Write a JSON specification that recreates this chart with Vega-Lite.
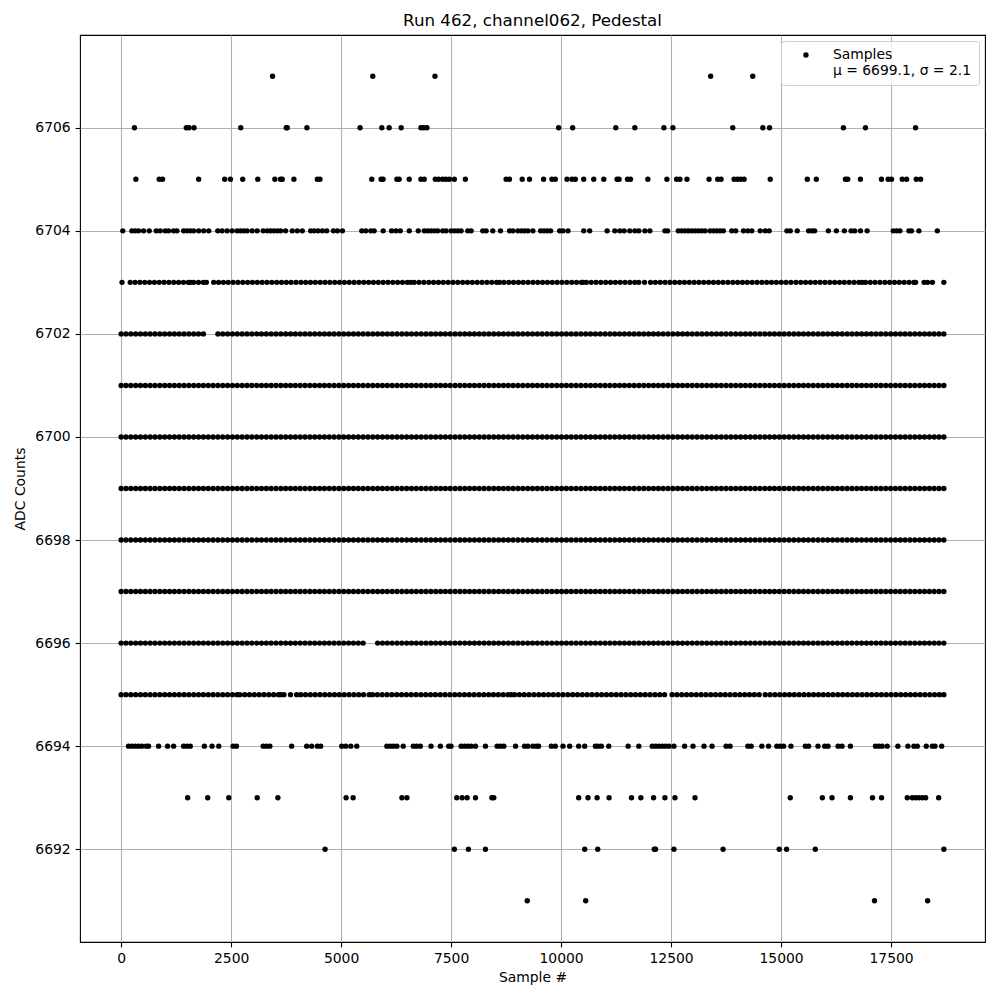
{
"$schema":"https://vega.github.io/schema/vega-lite/v6.json",
"autosize":{"type":"none"},
"padding":{"left":80,"top":35,"right":15,"bottom":58},
"width":905,
"height":907,
"background":"#ffffff",
"title":{"text":"Run 462, channel062, Pedestal","fontSize":16.7,"fontWeight":"normal","font":"DejaVu Sans","offset":5,"color":"#000000"},
"data":{"values":[
{"s":3441,"v":6707},{"s":5720,"v":6707},{"s":7133,"v":6707},{"s":13400,"v":6707},{"s":14357,"v":6707},
{"s":303,"v":6706},{"s":1481,"v":6706},{"s":1543,"v":6706},{"s":1657,"v":6706},{"s":2719,"v":6706},{"s":3753,"v":6706},{"s":3776,"v":6706},{"s":4223,"v":6706},{"s":5431,"v":6706},{"s":5925,"v":6706},{"s":6092,"v":6706},{"s":6365,"v":6706},{"s":6814,"v":6706},{"s":6876,"v":6706},{"s":6951,"v":6706},{"s":9944,"v":6706},{"s":10263,"v":6706},{"s":11243,"v":6706},{"s":11676,"v":6706},{"s":12337,"v":6706},{"s":12542,"v":6706},{"s":13902,"v":6706},{"s":14586,"v":6706},{"s":14738,"v":6706},{"s":16417,"v":6706},{"s":16918,"v":6706},{"s":18057,"v":6706},
{"s":335,"v":6705},{"s":866,"v":6705},{"s":941,"v":6705},{"s":1762,"v":6705},{"s":2354,"v":6705},{"s":2484,"v":6705},{"s":2764,"v":6705},{"s":3106,"v":6705},{"s":3494,"v":6705},{"s":3623,"v":6705},{"s":3662,"v":6705},{"s":3927,"v":6705},{"s":4460,"v":6705},{"s":4519,"v":6705},{"s":5697,"v":6705},{"s":5909,"v":6705},{"s":5955,"v":6705},{"s":6267,"v":6705},{"s":6320,"v":6705},{"s":6548,"v":6705},{"s":6814,"v":6705},{"s":6889,"v":6705},{"s":7140,"v":6705},{"s":7218,"v":6705},{"s":7309,"v":6705},{"s":7384,"v":6705},{"s":7459,"v":6705},{"s":7573,"v":6705},{"s":7824,"v":6705},{"s":8751,"v":6705},{"s":8826,"v":6705},{"s":9116,"v":6705},{"s":9282,"v":6705},{"s":9602,"v":6705},{"s":9792,"v":6705},{"s":9868,"v":6705},{"s":10134,"v":6705},{"s":10248,"v":6705},{"s":10324,"v":6705},{"s":10514,"v":6705},{"s":10742,"v":6705},{"s":10970,"v":6705},{"s":11273,"v":6705},{"s":11319,"v":6705},{"s":11509,"v":6705},{"s":11577,"v":6705},{"s":11972,"v":6705},{"s":12405,"v":6705},{"s":12626,"v":6705},{"s":12702,"v":6705},{"s":12861,"v":6705},{"s":13363,"v":6705},{"s":13560,"v":6705},{"s":13636,"v":6705},{"s":13932,"v":6705},{"s":14008,"v":6705},{"s":14084,"v":6705},{"s":14160,"v":6705},{"s":14753,"v":6705},{"s":15596,"v":6705},{"s":15801,"v":6705},{"s":16462,"v":6705},{"s":16515,"v":6705},{"s":16804,"v":6705},{"s":17282,"v":6705},{"s":17434,"v":6705},{"s":17510,"v":6705},{"s":17754,"v":6705},{"s":17853,"v":6705},{"s":18073,"v":6705},{"s":18172,"v":6705},
{"s":38,"v":6704},{"s":244,"v":6704},{"s":320,"v":6704},{"s":395,"v":6704},{"s":509,"v":6704},{"s":639,"v":6704},{"s":798,"v":6704},{"s":889,"v":6704},{"s":1003,"v":6704},{"s":1079,"v":6704},{"s":1193,"v":6704},{"s":1269,"v":6704},{"s":1421,"v":6704},{"s":1497,"v":6704},{"s":1573,"v":6704},{"s":1649,"v":6704},{"s":1763,"v":6704},{"s":1877,"v":6704},{"s":1991,"v":6704},{"s":2196,"v":6704},{"s":2295,"v":6704},{"s":2409,"v":6704},{"s":2523,"v":6704},{"s":2637,"v":6704},{"s":2713,"v":6704},{"s":2789,"v":6704},{"s":2865,"v":6704},{"s":2979,"v":6704},{"s":3092,"v":6704},{"s":3229,"v":6704},{"s":3320,"v":6704},{"s":3396,"v":6704},{"s":3472,"v":6704},{"s":3548,"v":6704},{"s":3624,"v":6704},{"s":3738,"v":6704},{"s":3890,"v":6704},{"s":4004,"v":6704},{"s":4118,"v":6704},{"s":4308,"v":6704},{"s":4384,"v":6704},{"s":4475,"v":6704},{"s":4574,"v":6704},{"s":4673,"v":6704},{"s":4824,"v":6704},{"s":4916,"v":6704},{"s":5030,"v":6704},{"s":5470,"v":6704},{"s":5561,"v":6704},{"s":5675,"v":6704},{"s":5751,"v":6704},{"s":5956,"v":6704},{"s":6146,"v":6704},{"s":6245,"v":6704},{"s":6344,"v":6704},{"s":6549,"v":6704},{"s":6754,"v":6704},{"s":6891,"v":6704},{"s":6967,"v":6704},{"s":7043,"v":6704},{"s":7119,"v":6704},{"s":7195,"v":6704},{"s":7309,"v":6704},{"s":7385,"v":6704},{"s":7499,"v":6704},{"s":7575,"v":6704},{"s":7651,"v":6704},{"s":7727,"v":6704},{"s":7879,"v":6704},{"s":7955,"v":6704},{"s":8220,"v":6704},{"s":8296,"v":6704},{"s":8448,"v":6704},{"s":8623,"v":6704},{"s":8828,"v":6704},{"s":8904,"v":6704},{"s":9018,"v":6704},{"s":9094,"v":6704},{"s":9170,"v":6704},{"s":9246,"v":6704},{"s":9359,"v":6704},{"s":9534,"v":6704},{"s":9610,"v":6704},{"s":9686,"v":6704},{"s":9762,"v":6704},{"s":9967,"v":6704},{"s":10043,"v":6704},{"s":10157,"v":6704},{"s":10514,"v":6704},{"s":10650,"v":6704},{"s":11046,"v":6704},{"s":11220,"v":6704},{"s":11334,"v":6704},{"s":11433,"v":6704},{"s":11562,"v":6704},{"s":11676,"v":6704},{"s":11767,"v":6704},{"s":11904,"v":6704},{"s":12018,"v":6704},{"s":12360,"v":6704},{"s":12421,"v":6704},{"s":12664,"v":6704},{"s":12740,"v":6704},{"s":12816,"v":6704},{"s":12892,"v":6704},{"s":12968,"v":6704},{"s":13044,"v":6704},{"s":13120,"v":6704},{"s":13196,"v":6704},{"s":13271,"v":6704},{"s":13385,"v":6704},{"s":13461,"v":6704},{"s":13537,"v":6704},{"s":13613,"v":6704},{"s":13689,"v":6704},{"s":13879,"v":6704},{"s":13970,"v":6704},{"s":14145,"v":6704},{"s":14244,"v":6704},{"s":14335,"v":6704},{"s":14525,"v":6704},{"s":14639,"v":6704},{"s":14730,"v":6704},{"s":15133,"v":6704},{"s":15209,"v":6704},{"s":15368,"v":6704},{"s":15627,"v":6704},{"s":15703,"v":6704},{"s":15763,"v":6704},{"s":16075,"v":6704},{"s":16257,"v":6704},{"s":16439,"v":6704},{"s":16591,"v":6704},{"s":16675,"v":6704},{"s":16804,"v":6704},{"s":16956,"v":6704},{"s":17549,"v":6704},{"s":17625,"v":6704},{"s":17701,"v":6704},{"s":17906,"v":6704},{"s":17966,"v":6704},{"s":18133,"v":6704},{"s":18551,"v":6704},
{"s":20,"v":6703},{"s":206,"v":6703},{"s":316,"v":6703},{"s":426,"v":6703},{"s":536,"v":6703},{"s":646,"v":6703},{"s":756,"v":6703},{"s":866,"v":6703},{"s":976,"v":6703},{"s":1086,"v":6703},{"s":1196,"v":6703},{"s":1306,"v":6703},{"s":1416,"v":6703},{"s":1526,"v":6703},{"s":1573,"v":6703},{"s":1649,"v":6703},{"s":1759,"v":6703},{"s":1869,"v":6703},{"s":1938,"v":6703},{"s":2105,"v":6703},{"s":2215,"v":6703},{"s":2325,"v":6703},{"s":2435,"v":6703},{"s":2545,"v":6703},{"s":2655,"v":6703},{"s":2765,"v":6703},{"s":2875,"v":6703},{"s":2985,"v":6703},{"s":3095,"v":6703},{"s":3205,"v":6703},{"s":3315,"v":6703},{"s":3425,"v":6703},{"s":3535,"v":6703},{"s":3645,"v":6703},{"s":3755,"v":6703},{"s":3865,"v":6703},{"s":3975,"v":6703},{"s":4085,"v":6703},{"s":4195,"v":6703},{"s":4305,"v":6703},{"s":4415,"v":6703},{"s":4525,"v":6703},{"s":4635,"v":6703},{"s":4745,"v":6703},{"s":4855,"v":6703},{"s":4965,"v":6703},{"s":5075,"v":6703},{"s":5185,"v":6703},{"s":5295,"v":6703},{"s":5405,"v":6703},{"s":5515,"v":6703},{"s":5625,"v":6703},{"s":5735,"v":6703},{"s":5845,"v":6703},{"s":5955,"v":6703},{"s":6065,"v":6703},{"s":6175,"v":6703},{"s":6285,"v":6703},{"s":6395,"v":6703},{"s":6505,"v":6703},{"s":6587,"v":6703},{"s":6663,"v":6703},{"s":6773,"v":6703},{"s":6883,"v":6703},{"s":6993,"v":6703},{"s":7103,"v":6703},{"s":7213,"v":6703},{"s":7323,"v":6703},{"s":7433,"v":6703},{"s":7543,"v":6703},{"s":7653,"v":6703},{"s":7763,"v":6703},{"s":7873,"v":6703},{"s":7983,"v":6703},{"s":8093,"v":6703},{"s":8203,"v":6703},{"s":8313,"v":6703},{"s":8423,"v":6703},{"s":8533,"v":6703},{"s":8600,"v":6703},{"s":8700,"v":6703},{"s":8810,"v":6703},{"s":8920,"v":6703},{"s":9030,"v":6703},{"s":9140,"v":6703},{"s":9250,"v":6703},{"s":9360,"v":6703},{"s":9470,"v":6703},{"s":9580,"v":6703},{"s":9690,"v":6703},{"s":9800,"v":6703},{"s":9910,"v":6703},{"s":10020,"v":6703},{"s":10130,"v":6703},{"s":10240,"v":6703},{"s":10350,"v":6703},{"s":10460,"v":6703},{"s":10499,"v":6703},{"s":10574,"v":6703},{"s":10684,"v":6703},{"s":10794,"v":6703},{"s":10904,"v":6703},{"s":11014,"v":6703},{"s":11124,"v":6703},{"s":11234,"v":6703},{"s":11344,"v":6703},{"s":11454,"v":6703},{"s":11564,"v":6703},{"s":11674,"v":6703},{"s":11767,"v":6703},{"s":11897,"v":6703},{"s":12033,"v":6703},{"s":12143,"v":6703},{"s":12253,"v":6703},{"s":12363,"v":6703},{"s":12473,"v":6703},{"s":12583,"v":6703},{"s":12693,"v":6703},{"s":12803,"v":6703},{"s":12913,"v":6703},{"s":13023,"v":6703},{"s":13133,"v":6703},{"s":13243,"v":6703},{"s":13353,"v":6703},{"s":13463,"v":6703},{"s":13573,"v":6703},{"s":13683,"v":6703},{"s":13793,"v":6703},{"s":13903,"v":6703},{"s":14013,"v":6703},{"s":14123,"v":6703},{"s":14233,"v":6703},{"s":14343,"v":6703},{"s":14453,"v":6703},{"s":14563,"v":6703},{"s":14673,"v":6703},{"s":14783,"v":6703},{"s":14893,"v":6703},{"s":15003,"v":6703},{"s":15113,"v":6703},{"s":15223,"v":6703},{"s":15338,"v":6703},{"s":15448,"v":6703},{"s":15558,"v":6703},{"s":15668,"v":6703},{"s":15778,"v":6703},{"s":15888,"v":6703},{"s":15998,"v":6703},{"s":16108,"v":6703},{"s":16218,"v":6703},{"s":16328,"v":6703},{"s":16438,"v":6703},{"s":16548,"v":6703},{"s":16658,"v":6703},{"s":16768,"v":6703},{"s":16842,"v":6703},{"s":16918,"v":6703},{"s":17028,"v":6703},{"s":17138,"v":6703},{"s":17248,"v":6703},{"s":17358,"v":6703},{"s":17468,"v":6703},{"s":17578,"v":6703},{"s":17688,"v":6703},{"s":17798,"v":6703},{"s":17908,"v":6703},{"s":18018,"v":6703},{"s":18058,"v":6703},{"s":18250,"v":6703},{"s":18330,"v":6703},{"s":18440,"v":6703},{"s":18700,"v":6703},
{"s":0,"v":6702},{"s":110,"v":6702},{"s":220,"v":6702},{"s":330,"v":6702},{"s":440,"v":6702},{"s":550,"v":6702},{"s":660,"v":6702},{"s":770,"v":6702},{"s":880,"v":6702},{"s":990,"v":6702},{"s":1100,"v":6702},{"s":1210,"v":6702},{"s":1320,"v":6702},{"s":1430,"v":6702},{"s":1540,"v":6702},{"s":1650,"v":6702},{"s":1760,"v":6702},{"s":1870,"v":6702},{"s":2200,"v":6702},{"s":2310,"v":6702},{"s":2420,"v":6702},{"s":2530,"v":6702},{"s":2640,"v":6702},{"s":2750,"v":6702},{"s":2860,"v":6702},{"s":2970,"v":6702},{"s":3080,"v":6702},{"s":3190,"v":6702},{"s":3300,"v":6702},{"s":3410,"v":6702},{"s":3520,"v":6702},{"s":3630,"v":6702},{"s":3740,"v":6702},{"s":3850,"v":6702},{"s":3960,"v":6702},{"s":4070,"v":6702},{"s":4180,"v":6702},{"s":4290,"v":6702},{"s":4400,"v":6702},{"s":4510,"v":6702},{"s":4620,"v":6702},{"s":4730,"v":6702},{"s":4840,"v":6702},{"s":4950,"v":6702},{"s":5060,"v":6702},{"s":5170,"v":6702},{"s":5280,"v":6702},{"s":5390,"v":6702},{"s":5500,"v":6702},{"s":5610,"v":6702},{"s":5720,"v":6702},{"s":5830,"v":6702},{"s":5940,"v":6702},{"s":6050,"v":6702},{"s":6160,"v":6702},{"s":6270,"v":6702},{"s":6380,"v":6702},{"s":6490,"v":6702},{"s":6600,"v":6702},{"s":6710,"v":6702},{"s":6820,"v":6702},{"s":6930,"v":6702},{"s":7040,"v":6702},{"s":7150,"v":6702},{"s":7260,"v":6702},{"s":7370,"v":6702},{"s":7480,"v":6702},{"s":7590,"v":6702},{"s":7700,"v":6702},{"s":7810,"v":6702},{"s":7920,"v":6702},{"s":8030,"v":6702},{"s":8140,"v":6702},{"s":8250,"v":6702},{"s":8360,"v":6702},{"s":8470,"v":6702},{"s":8580,"v":6702},{"s":8690,"v":6702},{"s":8800,"v":6702},{"s":8910,"v":6702},{"s":9020,"v":6702},{"s":9130,"v":6702},{"s":9240,"v":6702},{"s":9350,"v":6702},{"s":9460,"v":6702},{"s":9570,"v":6702},{"s":9680,"v":6702},{"s":9790,"v":6702},{"s":9900,"v":6702},{"s":10010,"v":6702},{"s":10120,"v":6702},{"s":10230,"v":6702},{"s":10340,"v":6702},{"s":10450,"v":6702},{"s":10560,"v":6702},{"s":10670,"v":6702},{"s":10780,"v":6702},{"s":10890,"v":6702},{"s":11000,"v":6702},{"s":11110,"v":6702},{"s":11220,"v":6702},{"s":11330,"v":6702},{"s":11440,"v":6702},{"s":11550,"v":6702},{"s":11660,"v":6702},{"s":11770,"v":6702},{"s":11880,"v":6702},{"s":11990,"v":6702},{"s":12100,"v":6702},{"s":12210,"v":6702},{"s":12320,"v":6702},{"s":12430,"v":6702},{"s":12540,"v":6702},{"s":12650,"v":6702},{"s":12760,"v":6702},{"s":12870,"v":6702},{"s":12980,"v":6702},{"s":13090,"v":6702},{"s":13200,"v":6702},{"s":13310,"v":6702},{"s":13420,"v":6702},{"s":13530,"v":6702},{"s":13640,"v":6702},{"s":13750,"v":6702},{"s":13860,"v":6702},{"s":13970,"v":6702},{"s":14080,"v":6702},{"s":14190,"v":6702},{"s":14300,"v":6702},{"s":14410,"v":6702},{"s":14520,"v":6702},{"s":14630,"v":6702},{"s":14740,"v":6702},{"s":14850,"v":6702},{"s":14960,"v":6702},{"s":15070,"v":6702},{"s":15180,"v":6702},{"s":15290,"v":6702},{"s":15400,"v":6702},{"s":15510,"v":6702},{"s":15620,"v":6702},{"s":15730,"v":6702},{"s":15840,"v":6702},{"s":15950,"v":6702},{"s":16060,"v":6702},{"s":16170,"v":6702},{"s":16280,"v":6702},{"s":16390,"v":6702},{"s":16500,"v":6702},{"s":16610,"v":6702},{"s":16720,"v":6702},{"s":16830,"v":6702},{"s":16940,"v":6702},{"s":17050,"v":6702},{"s":17160,"v":6702},{"s":17270,"v":6702},{"s":17380,"v":6702},{"s":17490,"v":6702},{"s":17600,"v":6702},{"s":17710,"v":6702},{"s":17820,"v":6702},{"s":17930,"v":6702},{"s":18040,"v":6702},{"s":18150,"v":6702},{"s":18260,"v":6702},{"s":18370,"v":6702},{"s":18480,"v":6702},{"s":18590,"v":6702},{"s":18700,"v":6702},
{"s":0,"v":6701},{"s":110,"v":6701},{"s":220,"v":6701},{"s":330,"v":6701},{"s":440,"v":6701},{"s":550,"v":6701},{"s":660,"v":6701},{"s":770,"v":6701},{"s":880,"v":6701},{"s":990,"v":6701},{"s":1100,"v":6701},{"s":1210,"v":6701},{"s":1320,"v":6701},{"s":1430,"v":6701},{"s":1540,"v":6701},{"s":1650,"v":6701},{"s":1760,"v":6701},{"s":1870,"v":6701},{"s":1980,"v":6701},{"s":2090,"v":6701},{"s":2200,"v":6701},{"s":2310,"v":6701},{"s":2420,"v":6701},{"s":2530,"v":6701},{"s":2640,"v":6701},{"s":2750,"v":6701},{"s":2860,"v":6701},{"s":2970,"v":6701},{"s":3080,"v":6701},{"s":3190,"v":6701},{"s":3300,"v":6701},{"s":3410,"v":6701},{"s":3520,"v":6701},{"s":3630,"v":6701},{"s":3740,"v":6701},{"s":3850,"v":6701},{"s":3960,"v":6701},{"s":4070,"v":6701},{"s":4180,"v":6701},{"s":4290,"v":6701},{"s":4400,"v":6701},{"s":4510,"v":6701},{"s":4620,"v":6701},{"s":4730,"v":6701},{"s":4840,"v":6701},{"s":4950,"v":6701},{"s":5060,"v":6701},{"s":5170,"v":6701},{"s":5280,"v":6701},{"s":5390,"v":6701},{"s":5500,"v":6701},{"s":5610,"v":6701},{"s":5720,"v":6701},{"s":5830,"v":6701},{"s":5940,"v":6701},{"s":6050,"v":6701},{"s":6160,"v":6701},{"s":6270,"v":6701},{"s":6380,"v":6701},{"s":6490,"v":6701},{"s":6600,"v":6701},{"s":6710,"v":6701},{"s":6820,"v":6701},{"s":6930,"v":6701},{"s":7040,"v":6701},{"s":7150,"v":6701},{"s":7260,"v":6701},{"s":7370,"v":6701},{"s":7480,"v":6701},{"s":7590,"v":6701},{"s":7700,"v":6701},{"s":7810,"v":6701},{"s":7920,"v":6701},{"s":8030,"v":6701},{"s":8140,"v":6701},{"s":8250,"v":6701},{"s":8360,"v":6701},{"s":8470,"v":6701},{"s":8580,"v":6701},{"s":8690,"v":6701},{"s":8800,"v":6701},{"s":8910,"v":6701},{"s":9020,"v":6701},{"s":9130,"v":6701},{"s":9240,"v":6701},{"s":9350,"v":6701},{"s":9460,"v":6701},{"s":9570,"v":6701},{"s":9680,"v":6701},{"s":9790,"v":6701},{"s":9900,"v":6701},{"s":10010,"v":6701},{"s":10120,"v":6701},{"s":10230,"v":6701},{"s":10340,"v":6701},{"s":10450,"v":6701},{"s":10560,"v":6701},{"s":10670,"v":6701},{"s":10780,"v":6701},{"s":10890,"v":6701},{"s":11000,"v":6701},{"s":11110,"v":6701},{"s":11220,"v":6701},{"s":11330,"v":6701},{"s":11440,"v":6701},{"s":11550,"v":6701},{"s":11660,"v":6701},{"s":11770,"v":6701},{"s":11880,"v":6701},{"s":11990,"v":6701},{"s":12100,"v":6701},{"s":12210,"v":6701},{"s":12320,"v":6701},{"s":12430,"v":6701},{"s":12540,"v":6701},{"s":12650,"v":6701},{"s":12760,"v":6701},{"s":12870,"v":6701},{"s":12980,"v":6701},{"s":13090,"v":6701},{"s":13200,"v":6701},{"s":13310,"v":6701},{"s":13420,"v":6701},{"s":13530,"v":6701},{"s":13640,"v":6701},{"s":13750,"v":6701},{"s":13860,"v":6701},{"s":13970,"v":6701},{"s":14080,"v":6701},{"s":14190,"v":6701},{"s":14300,"v":6701},{"s":14410,"v":6701},{"s":14520,"v":6701},{"s":14630,"v":6701},{"s":14740,"v":6701},{"s":14850,"v":6701},{"s":14960,"v":6701},{"s":15070,"v":6701},{"s":15180,"v":6701},{"s":15290,"v":6701},{"s":15400,"v":6701},{"s":15510,"v":6701},{"s":15620,"v":6701},{"s":15730,"v":6701},{"s":15840,"v":6701},{"s":15950,"v":6701},{"s":16060,"v":6701},{"s":16170,"v":6701},{"s":16280,"v":6701},{"s":16390,"v":6701},{"s":16500,"v":6701},{"s":16610,"v":6701},{"s":16720,"v":6701},{"s":16830,"v":6701},{"s":16940,"v":6701},{"s":17050,"v":6701},{"s":17160,"v":6701},{"s":17270,"v":6701},{"s":17380,"v":6701},{"s":17490,"v":6701},{"s":17600,"v":6701},{"s":17710,"v":6701},{"s":17820,"v":6701},{"s":17930,"v":6701},{"s":18040,"v":6701},{"s":18150,"v":6701},{"s":18260,"v":6701},{"s":18370,"v":6701},{"s":18480,"v":6701},{"s":18590,"v":6701},{"s":18700,"v":6701},
{"s":0,"v":6700},{"s":110,"v":6700},{"s":220,"v":6700},{"s":330,"v":6700},{"s":440,"v":6700},{"s":550,"v":6700},{"s":660,"v":6700},{"s":770,"v":6700},{"s":880,"v":6700},{"s":990,"v":6700},{"s":1100,"v":6700},{"s":1210,"v":6700},{"s":1320,"v":6700},{"s":1430,"v":6700},{"s":1540,"v":6700},{"s":1650,"v":6700},{"s":1760,"v":6700},{"s":1870,"v":6700},{"s":1980,"v":6700},{"s":2090,"v":6700},{"s":2200,"v":6700},{"s":2310,"v":6700},{"s":2420,"v":6700},{"s":2530,"v":6700},{"s":2640,"v":6700},{"s":2750,"v":6700},{"s":2860,"v":6700},{"s":2970,"v":6700},{"s":3080,"v":6700},{"s":3190,"v":6700},{"s":3300,"v":6700},{"s":3410,"v":6700},{"s":3520,"v":6700},{"s":3630,"v":6700},{"s":3740,"v":6700},{"s":3850,"v":6700},{"s":3960,"v":6700},{"s":4070,"v":6700},{"s":4180,"v":6700},{"s":4290,"v":6700},{"s":4400,"v":6700},{"s":4510,"v":6700},{"s":4620,"v":6700},{"s":4730,"v":6700},{"s":4840,"v":6700},{"s":4950,"v":6700},{"s":5060,"v":6700},{"s":5170,"v":6700},{"s":5280,"v":6700},{"s":5390,"v":6700},{"s":5500,"v":6700},{"s":5610,"v":6700},{"s":5720,"v":6700},{"s":5830,"v":6700},{"s":5940,"v":6700},{"s":6050,"v":6700},{"s":6160,"v":6700},{"s":6270,"v":6700},{"s":6380,"v":6700},{"s":6490,"v":6700},{"s":6600,"v":6700},{"s":6710,"v":6700},{"s":6820,"v":6700},{"s":6930,"v":6700},{"s":7040,"v":6700},{"s":7150,"v":6700},{"s":7260,"v":6700},{"s":7370,"v":6700},{"s":7480,"v":6700},{"s":7590,"v":6700},{"s":7700,"v":6700},{"s":7810,"v":6700},{"s":7920,"v":6700},{"s":8030,"v":6700},{"s":8140,"v":6700},{"s":8250,"v":6700},{"s":8360,"v":6700},{"s":8470,"v":6700},{"s":8580,"v":6700},{"s":8690,"v":6700},{"s":8800,"v":6700},{"s":8910,"v":6700},{"s":9020,"v":6700},{"s":9130,"v":6700},{"s":9240,"v":6700},{"s":9350,"v":6700},{"s":9460,"v":6700},{"s":9570,"v":6700},{"s":9680,"v":6700},{"s":9790,"v":6700},{"s":9900,"v":6700},{"s":10010,"v":6700},{"s":10120,"v":6700},{"s":10230,"v":6700},{"s":10340,"v":6700},{"s":10450,"v":6700},{"s":10560,"v":6700},{"s":10670,"v":6700},{"s":10780,"v":6700},{"s":10890,"v":6700},{"s":11000,"v":6700},{"s":11110,"v":6700},{"s":11220,"v":6700},{"s":11330,"v":6700},{"s":11440,"v":6700},{"s":11550,"v":6700},{"s":11660,"v":6700},{"s":11770,"v":6700},{"s":11880,"v":6700},{"s":11990,"v":6700},{"s":12100,"v":6700},{"s":12210,"v":6700},{"s":12320,"v":6700},{"s":12430,"v":6700},{"s":12540,"v":6700},{"s":12650,"v":6700},{"s":12760,"v":6700},{"s":12870,"v":6700},{"s":12980,"v":6700},{"s":13090,"v":6700},{"s":13200,"v":6700},{"s":13310,"v":6700},{"s":13420,"v":6700},{"s":13530,"v":6700},{"s":13640,"v":6700},{"s":13750,"v":6700},{"s":13860,"v":6700},{"s":13970,"v":6700},{"s":14080,"v":6700},{"s":14190,"v":6700},{"s":14300,"v":6700},{"s":14410,"v":6700},{"s":14520,"v":6700},{"s":14630,"v":6700},{"s":14740,"v":6700},{"s":14850,"v":6700},{"s":14960,"v":6700},{"s":15070,"v":6700},{"s":15180,"v":6700},{"s":15290,"v":6700},{"s":15400,"v":6700},{"s":15510,"v":6700},{"s":15620,"v":6700},{"s":15730,"v":6700},{"s":15840,"v":6700},{"s":15950,"v":6700},{"s":16060,"v":6700},{"s":16170,"v":6700},{"s":16280,"v":6700},{"s":16390,"v":6700},{"s":16500,"v":6700},{"s":16610,"v":6700},{"s":16720,"v":6700},{"s":16830,"v":6700},{"s":16940,"v":6700},{"s":17050,"v":6700},{"s":17160,"v":6700},{"s":17270,"v":6700},{"s":17380,"v":6700},{"s":17490,"v":6700},{"s":17600,"v":6700},{"s":17710,"v":6700},{"s":17820,"v":6700},{"s":17930,"v":6700},{"s":18040,"v":6700},{"s":18150,"v":6700},{"s":18260,"v":6700},{"s":18370,"v":6700},{"s":18480,"v":6700},{"s":18590,"v":6700},{"s":18700,"v":6700},
{"s":0,"v":6699},{"s":110,"v":6699},{"s":220,"v":6699},{"s":330,"v":6699},{"s":440,"v":6699},{"s":550,"v":6699},{"s":660,"v":6699},{"s":770,"v":6699},{"s":880,"v":6699},{"s":990,"v":6699},{"s":1100,"v":6699},{"s":1210,"v":6699},{"s":1320,"v":6699},{"s":1430,"v":6699},{"s":1540,"v":6699},{"s":1650,"v":6699},{"s":1760,"v":6699},{"s":1870,"v":6699},{"s":1980,"v":6699},{"s":2090,"v":6699},{"s":2200,"v":6699},{"s":2310,"v":6699},{"s":2420,"v":6699},{"s":2530,"v":6699},{"s":2640,"v":6699},{"s":2750,"v":6699},{"s":2860,"v":6699},{"s":2970,"v":6699},{"s":3080,"v":6699},{"s":3190,"v":6699},{"s":3300,"v":6699},{"s":3410,"v":6699},{"s":3520,"v":6699},{"s":3630,"v":6699},{"s":3740,"v":6699},{"s":3850,"v":6699},{"s":3960,"v":6699},{"s":4070,"v":6699},{"s":4180,"v":6699},{"s":4290,"v":6699},{"s":4400,"v":6699},{"s":4510,"v":6699},{"s":4620,"v":6699},{"s":4730,"v":6699},{"s":4840,"v":6699},{"s":4950,"v":6699},{"s":5060,"v":6699},{"s":5170,"v":6699},{"s":5280,"v":6699},{"s":5390,"v":6699},{"s":5500,"v":6699},{"s":5610,"v":6699},{"s":5720,"v":6699},{"s":5830,"v":6699},{"s":5940,"v":6699},{"s":6050,"v":6699},{"s":6160,"v":6699},{"s":6270,"v":6699},{"s":6380,"v":6699},{"s":6490,"v":6699},{"s":6600,"v":6699},{"s":6710,"v":6699},{"s":6820,"v":6699},{"s":6930,"v":6699},{"s":7040,"v":6699},{"s":7150,"v":6699},{"s":7260,"v":6699},{"s":7370,"v":6699},{"s":7480,"v":6699},{"s":7590,"v":6699},{"s":7700,"v":6699},{"s":7810,"v":6699},{"s":7920,"v":6699},{"s":8030,"v":6699},{"s":8140,"v":6699},{"s":8250,"v":6699},{"s":8360,"v":6699},{"s":8470,"v":6699},{"s":8580,"v":6699},{"s":8690,"v":6699},{"s":8800,"v":6699},{"s":8910,"v":6699},{"s":9020,"v":6699},{"s":9130,"v":6699},{"s":9240,"v":6699},{"s":9350,"v":6699},{"s":9460,"v":6699},{"s":9570,"v":6699},{"s":9680,"v":6699},{"s":9790,"v":6699},{"s":9900,"v":6699},{"s":10010,"v":6699},{"s":10120,"v":6699},{"s":10230,"v":6699},{"s":10340,"v":6699},{"s":10450,"v":6699},{"s":10560,"v":6699},{"s":10670,"v":6699},{"s":10780,"v":6699},{"s":10890,"v":6699},{"s":11000,"v":6699},{"s":11110,"v":6699},{"s":11220,"v":6699},{"s":11330,"v":6699},{"s":11440,"v":6699},{"s":11550,"v":6699},{"s":11660,"v":6699},{"s":11770,"v":6699},{"s":11880,"v":6699},{"s":11990,"v":6699},{"s":12100,"v":6699},{"s":12210,"v":6699},{"s":12320,"v":6699},{"s":12430,"v":6699},{"s":12540,"v":6699},{"s":12650,"v":6699},{"s":12760,"v":6699},{"s":12870,"v":6699},{"s":12980,"v":6699},{"s":13090,"v":6699},{"s":13200,"v":6699},{"s":13310,"v":6699},{"s":13420,"v":6699},{"s":13530,"v":6699},{"s":13640,"v":6699},{"s":13750,"v":6699},{"s":13860,"v":6699},{"s":13970,"v":6699},{"s":14080,"v":6699},{"s":14190,"v":6699},{"s":14300,"v":6699},{"s":14410,"v":6699},{"s":14520,"v":6699},{"s":14630,"v":6699},{"s":14740,"v":6699},{"s":14850,"v":6699},{"s":14960,"v":6699},{"s":15070,"v":6699},{"s":15180,"v":6699},{"s":15290,"v":6699},{"s":15400,"v":6699},{"s":15510,"v":6699},{"s":15620,"v":6699},{"s":15730,"v":6699},{"s":15840,"v":6699},{"s":15950,"v":6699},{"s":16060,"v":6699},{"s":16170,"v":6699},{"s":16280,"v":6699},{"s":16390,"v":6699},{"s":16500,"v":6699},{"s":16610,"v":6699},{"s":16720,"v":6699},{"s":16830,"v":6699},{"s":16940,"v":6699},{"s":17050,"v":6699},{"s":17160,"v":6699},{"s":17270,"v":6699},{"s":17380,"v":6699},{"s":17490,"v":6699},{"s":17600,"v":6699},{"s":17710,"v":6699},{"s":17820,"v":6699},{"s":17930,"v":6699},{"s":18040,"v":6699},{"s":18150,"v":6699},{"s":18260,"v":6699},{"s":18370,"v":6699},{"s":18480,"v":6699},{"s":18590,"v":6699},{"s":18700,"v":6699},
{"s":0,"v":6698},{"s":110,"v":6698},{"s":220,"v":6698},{"s":330,"v":6698},{"s":440,"v":6698},{"s":550,"v":6698},{"s":660,"v":6698},{"s":770,"v":6698},{"s":880,"v":6698},{"s":990,"v":6698},{"s":1100,"v":6698},{"s":1210,"v":6698},{"s":1320,"v":6698},{"s":1430,"v":6698},{"s":1540,"v":6698},{"s":1650,"v":6698},{"s":1760,"v":6698},{"s":1870,"v":6698},{"s":1980,"v":6698},{"s":2090,"v":6698},{"s":2200,"v":6698},{"s":2310,"v":6698},{"s":2420,"v":6698},{"s":2530,"v":6698},{"s":2640,"v":6698},{"s":2750,"v":6698},{"s":2860,"v":6698},{"s":2970,"v":6698},{"s":3080,"v":6698},{"s":3190,"v":6698},{"s":3300,"v":6698},{"s":3410,"v":6698},{"s":3520,"v":6698},{"s":3630,"v":6698},{"s":3740,"v":6698},{"s":3850,"v":6698},{"s":3960,"v":6698},{"s":4070,"v":6698},{"s":4180,"v":6698},{"s":4290,"v":6698},{"s":4400,"v":6698},{"s":4510,"v":6698},{"s":4620,"v":6698},{"s":4730,"v":6698},{"s":4840,"v":6698},{"s":4950,"v":6698},{"s":5060,"v":6698},{"s":5170,"v":6698},{"s":5280,"v":6698},{"s":5390,"v":6698},{"s":5500,"v":6698},{"s":5610,"v":6698},{"s":5720,"v":6698},{"s":5830,"v":6698},{"s":5940,"v":6698},{"s":6050,"v":6698},{"s":6160,"v":6698},{"s":6270,"v":6698},{"s":6380,"v":6698},{"s":6490,"v":6698},{"s":6600,"v":6698},{"s":6710,"v":6698},{"s":6820,"v":6698},{"s":6930,"v":6698},{"s":7040,"v":6698},{"s":7150,"v":6698},{"s":7260,"v":6698},{"s":7370,"v":6698},{"s":7480,"v":6698},{"s":7590,"v":6698},{"s":7700,"v":6698},{"s":7810,"v":6698},{"s":7920,"v":6698},{"s":8030,"v":6698},{"s":8140,"v":6698},{"s":8250,"v":6698},{"s":8360,"v":6698},{"s":8470,"v":6698},{"s":8580,"v":6698},{"s":8690,"v":6698},{"s":8800,"v":6698},{"s":8910,"v":6698},{"s":9020,"v":6698},{"s":9130,"v":6698},{"s":9240,"v":6698},{"s":9350,"v":6698},{"s":9460,"v":6698},{"s":9570,"v":6698},{"s":9680,"v":6698},{"s":9790,"v":6698},{"s":9900,"v":6698},{"s":10010,"v":6698},{"s":10120,"v":6698},{"s":10230,"v":6698},{"s":10340,"v":6698},{"s":10450,"v":6698},{"s":10560,"v":6698},{"s":10670,"v":6698},{"s":10780,"v":6698},{"s":10890,"v":6698},{"s":11000,"v":6698},{"s":11110,"v":6698},{"s":11220,"v":6698},{"s":11330,"v":6698},{"s":11440,"v":6698},{"s":11550,"v":6698},{"s":11660,"v":6698},{"s":11770,"v":6698},{"s":11880,"v":6698},{"s":11990,"v":6698},{"s":12100,"v":6698},{"s":12210,"v":6698},{"s":12320,"v":6698},{"s":12430,"v":6698},{"s":12540,"v":6698},{"s":12650,"v":6698},{"s":12760,"v":6698},{"s":12870,"v":6698},{"s":12980,"v":6698},{"s":13090,"v":6698},{"s":13200,"v":6698},{"s":13310,"v":6698},{"s":13420,"v":6698},{"s":13530,"v":6698},{"s":13640,"v":6698},{"s":13750,"v":6698},{"s":13860,"v":6698},{"s":13970,"v":6698},{"s":14080,"v":6698},{"s":14190,"v":6698},{"s":14300,"v":6698},{"s":14410,"v":6698},{"s":14520,"v":6698},{"s":14630,"v":6698},{"s":14740,"v":6698},{"s":14850,"v":6698},{"s":14960,"v":6698},{"s":15070,"v":6698},{"s":15180,"v":6698},{"s":15290,"v":6698},{"s":15400,"v":6698},{"s":15510,"v":6698},{"s":15620,"v":6698},{"s":15730,"v":6698},{"s":15840,"v":6698},{"s":15950,"v":6698},{"s":16060,"v":6698},{"s":16170,"v":6698},{"s":16280,"v":6698},{"s":16390,"v":6698},{"s":16500,"v":6698},{"s":16610,"v":6698},{"s":16720,"v":6698},{"s":16830,"v":6698},{"s":16940,"v":6698},{"s":17050,"v":6698},{"s":17160,"v":6698},{"s":17270,"v":6698},{"s":17380,"v":6698},{"s":17490,"v":6698},{"s":17600,"v":6698},{"s":17710,"v":6698},{"s":17820,"v":6698},{"s":17930,"v":6698},{"s":18040,"v":6698},{"s":18150,"v":6698},{"s":18260,"v":6698},{"s":18370,"v":6698},{"s":18480,"v":6698},{"s":18590,"v":6698},{"s":18700,"v":6698},
{"s":0,"v":6697},{"s":110,"v":6697},{"s":220,"v":6697},{"s":330,"v":6697},{"s":440,"v":6697},{"s":550,"v":6697},{"s":660,"v":6697},{"s":770,"v":6697},{"s":880,"v":6697},{"s":990,"v":6697},{"s":1100,"v":6697},{"s":1210,"v":6697},{"s":1320,"v":6697},{"s":1430,"v":6697},{"s":1540,"v":6697},{"s":1650,"v":6697},{"s":1760,"v":6697},{"s":1870,"v":6697},{"s":1980,"v":6697},{"s":2090,"v":6697},{"s":2200,"v":6697},{"s":2310,"v":6697},{"s":2420,"v":6697},{"s":2530,"v":6697},{"s":2640,"v":6697},{"s":2750,"v":6697},{"s":2860,"v":6697},{"s":2970,"v":6697},{"s":3080,"v":6697},{"s":3190,"v":6697},{"s":3300,"v":6697},{"s":3410,"v":6697},{"s":3520,"v":6697},{"s":3630,"v":6697},{"s":3740,"v":6697},{"s":3850,"v":6697},{"s":3960,"v":6697},{"s":4070,"v":6697},{"s":4180,"v":6697},{"s":4290,"v":6697},{"s":4400,"v":6697},{"s":4510,"v":6697},{"s":4620,"v":6697},{"s":4730,"v":6697},{"s":4840,"v":6697},{"s":4950,"v":6697},{"s":5060,"v":6697},{"s":5170,"v":6697},{"s":5280,"v":6697},{"s":5390,"v":6697},{"s":5500,"v":6697},{"s":5610,"v":6697},{"s":5720,"v":6697},{"s":5830,"v":6697},{"s":5940,"v":6697},{"s":6050,"v":6697},{"s":6160,"v":6697},{"s":6270,"v":6697},{"s":6380,"v":6697},{"s":6490,"v":6697},{"s":6600,"v":6697},{"s":6710,"v":6697},{"s":6820,"v":6697},{"s":6930,"v":6697},{"s":7040,"v":6697},{"s":7150,"v":6697},{"s":7260,"v":6697},{"s":7370,"v":6697},{"s":7480,"v":6697},{"s":7590,"v":6697},{"s":7700,"v":6697},{"s":7810,"v":6697},{"s":7920,"v":6697},{"s":8030,"v":6697},{"s":8140,"v":6697},{"s":8250,"v":6697},{"s":8360,"v":6697},{"s":8470,"v":6697},{"s":8580,"v":6697},{"s":8690,"v":6697},{"s":8800,"v":6697},{"s":8910,"v":6697},{"s":9020,"v":6697},{"s":9130,"v":6697},{"s":9240,"v":6697},{"s":9350,"v":6697},{"s":9460,"v":6697},{"s":9570,"v":6697},{"s":9680,"v":6697},{"s":9790,"v":6697},{"s":9900,"v":6697},{"s":10010,"v":6697},{"s":10120,"v":6697},{"s":10230,"v":6697},{"s":10340,"v":6697},{"s":10450,"v":6697},{"s":10560,"v":6697},{"s":10670,"v":6697},{"s":10780,"v":6697},{"s":10890,"v":6697},{"s":11000,"v":6697},{"s":11110,"v":6697},{"s":11220,"v":6697},{"s":11330,"v":6697},{"s":11440,"v":6697},{"s":11550,"v":6697},{"s":11660,"v":6697},{"s":11770,"v":6697},{"s":11880,"v":6697},{"s":11990,"v":6697},{"s":12100,"v":6697},{"s":12210,"v":6697},{"s":12320,"v":6697},{"s":12430,"v":6697},{"s":12540,"v":6697},{"s":12650,"v":6697},{"s":12760,"v":6697},{"s":12870,"v":6697},{"s":12980,"v":6697},{"s":13090,"v":6697},{"s":13200,"v":6697},{"s":13310,"v":6697},{"s":13420,"v":6697},{"s":13530,"v":6697},{"s":13640,"v":6697},{"s":13750,"v":6697},{"s":13860,"v":6697},{"s":13970,"v":6697},{"s":14080,"v":6697},{"s":14190,"v":6697},{"s":14300,"v":6697},{"s":14410,"v":6697},{"s":14520,"v":6697},{"s":14630,"v":6697},{"s":14740,"v":6697},{"s":14850,"v":6697},{"s":14960,"v":6697},{"s":15070,"v":6697},{"s":15180,"v":6697},{"s":15290,"v":6697},{"s":15400,"v":6697},{"s":15510,"v":6697},{"s":15620,"v":6697},{"s":15730,"v":6697},{"s":15840,"v":6697},{"s":15950,"v":6697},{"s":16060,"v":6697},{"s":16170,"v":6697},{"s":16280,"v":6697},{"s":16390,"v":6697},{"s":16500,"v":6697},{"s":16610,"v":6697},{"s":16720,"v":6697},{"s":16830,"v":6697},{"s":16940,"v":6697},{"s":17050,"v":6697},{"s":17160,"v":6697},{"s":17270,"v":6697},{"s":17380,"v":6697},{"s":17490,"v":6697},{"s":17600,"v":6697},{"s":17710,"v":6697},{"s":17820,"v":6697},{"s":17930,"v":6697},{"s":18040,"v":6697},{"s":18150,"v":6697},{"s":18260,"v":6697},{"s":18370,"v":6697},{"s":18480,"v":6697},{"s":18590,"v":6697},{"s":18700,"v":6697},
{"s":0,"v":6696},{"s":110,"v":6696},{"s":220,"v":6696},{"s":330,"v":6696},{"s":440,"v":6696},{"s":550,"v":6696},{"s":660,"v":6696},{"s":770,"v":6696},{"s":880,"v":6696},{"s":990,"v":6696},{"s":1100,"v":6696},{"s":1210,"v":6696},{"s":1320,"v":6696},{"s":1430,"v":6696},{"s":1540,"v":6696},{"s":1650,"v":6696},{"s":1760,"v":6696},{"s":1870,"v":6696},{"s":1980,"v":6696},{"s":2090,"v":6696},{"s":2200,"v":6696},{"s":2310,"v":6696},{"s":2420,"v":6696},{"s":2530,"v":6696},{"s":2640,"v":6696},{"s":2750,"v":6696},{"s":2860,"v":6696},{"s":2970,"v":6696},{"s":3080,"v":6696},{"s":3190,"v":6696},{"s":3300,"v":6696},{"s":3410,"v":6696},{"s":3520,"v":6696},{"s":3630,"v":6696},{"s":3740,"v":6696},{"s":3850,"v":6696},{"s":3960,"v":6696},{"s":4070,"v":6696},{"s":4180,"v":6696},{"s":4290,"v":6696},{"s":4400,"v":6696},{"s":4510,"v":6696},{"s":4620,"v":6696},{"s":4730,"v":6696},{"s":4840,"v":6696},{"s":4950,"v":6696},{"s":5060,"v":6696},{"s":5170,"v":6696},{"s":5280,"v":6696},{"s":5390,"v":6696},{"s":5500,"v":6696},{"s":5830,"v":6696},{"s":5940,"v":6696},{"s":6050,"v":6696},{"s":6160,"v":6696},{"s":6270,"v":6696},{"s":6380,"v":6696},{"s":6490,"v":6696},{"s":6600,"v":6696},{"s":6710,"v":6696},{"s":6820,"v":6696},{"s":6930,"v":6696},{"s":7040,"v":6696},{"s":7150,"v":6696},{"s":7260,"v":6696},{"s":7370,"v":6696},{"s":7480,"v":6696},{"s":7590,"v":6696},{"s":7700,"v":6696},{"s":7810,"v":6696},{"s":7920,"v":6696},{"s":8030,"v":6696},{"s":8140,"v":6696},{"s":8250,"v":6696},{"s":8360,"v":6696},{"s":8470,"v":6696},{"s":8580,"v":6696},{"s":8690,"v":6696},{"s":8800,"v":6696},{"s":8910,"v":6696},{"s":9020,"v":6696},{"s":9130,"v":6696},{"s":9240,"v":6696},{"s":9350,"v":6696},{"s":9460,"v":6696},{"s":9570,"v":6696},{"s":9680,"v":6696},{"s":9790,"v":6696},{"s":9900,"v":6696},{"s":10010,"v":6696},{"s":10120,"v":6696},{"s":10230,"v":6696},{"s":10340,"v":6696},{"s":10450,"v":6696},{"s":10560,"v":6696},{"s":10670,"v":6696},{"s":10780,"v":6696},{"s":10890,"v":6696},{"s":11000,"v":6696},{"s":11110,"v":6696},{"s":11220,"v":6696},{"s":11330,"v":6696},{"s":11440,"v":6696},{"s":11550,"v":6696},{"s":11660,"v":6696},{"s":11770,"v":6696},{"s":11880,"v":6696},{"s":11990,"v":6696},{"s":12100,"v":6696},{"s":12210,"v":6696},{"s":12320,"v":6696},{"s":12430,"v":6696},{"s":12540,"v":6696},{"s":12650,"v":6696},{"s":12760,"v":6696},{"s":12870,"v":6696},{"s":12980,"v":6696},{"s":13090,"v":6696},{"s":13200,"v":6696},{"s":13310,"v":6696},{"s":13420,"v":6696},{"s":13530,"v":6696},{"s":13640,"v":6696},{"s":13750,"v":6696},{"s":13860,"v":6696},{"s":13970,"v":6696},{"s":14080,"v":6696},{"s":14190,"v":6696},{"s":14300,"v":6696},{"s":14410,"v":6696},{"s":14520,"v":6696},{"s":14630,"v":6696},{"s":14740,"v":6696},{"s":14850,"v":6696},{"s":14960,"v":6696},{"s":15070,"v":6696},{"s":15180,"v":6696},{"s":15290,"v":6696},{"s":15400,"v":6696},{"s":15510,"v":6696},{"s":15620,"v":6696},{"s":15730,"v":6696},{"s":15840,"v":6696},{"s":15950,"v":6696},{"s":16060,"v":6696},{"s":16170,"v":6696},{"s":16280,"v":6696},{"s":16390,"v":6696},{"s":16500,"v":6696},{"s":16610,"v":6696},{"s":16720,"v":6696},{"s":16830,"v":6696},{"s":16940,"v":6696},{"s":17050,"v":6696},{"s":17160,"v":6696},{"s":17270,"v":6696},{"s":17380,"v":6696},{"s":17490,"v":6696},{"s":17600,"v":6696},{"s":17710,"v":6696},{"s":17820,"v":6696},{"s":17930,"v":6696},{"s":18040,"v":6696},{"s":18150,"v":6696},{"s":18260,"v":6696},{"s":18370,"v":6696},{"s":18480,"v":6696},{"s":18590,"v":6696},{"s":18700,"v":6696},
{"s":0,"v":6695},{"s":110,"v":6695},{"s":220,"v":6695},{"s":330,"v":6695},{"s":440,"v":6695},{"s":550,"v":6695},{"s":660,"v":6695},{"s":770,"v":6695},{"s":880,"v":6695},{"s":990,"v":6695},{"s":1100,"v":6695},{"s":1210,"v":6695},{"s":1320,"v":6695},{"s":1430,"v":6695},{"s":1540,"v":6695},{"s":1650,"v":6695},{"s":1760,"v":6695},{"s":1870,"v":6695},{"s":1980,"v":6695},{"s":2090,"v":6695},{"s":2200,"v":6695},{"s":2310,"v":6695},{"s":2420,"v":6695},{"s":2530,"v":6695},{"s":2637,"v":6695},{"s":2697,"v":6695},{"s":2807,"v":6695},{"s":2917,"v":6695},{"s":3027,"v":6695},{"s":3137,"v":6695},{"s":3247,"v":6695},{"s":3357,"v":6695},{"s":3467,"v":6695},{"s":3577,"v":6695},{"s":3624,"v":6695},{"s":3700,"v":6695},{"s":3850,"v":6695},{"s":3990,"v":6695},{"s":4080,"v":6695},{"s":4190,"v":6695},{"s":4300,"v":6695},{"s":4410,"v":6695},{"s":4520,"v":6695},{"s":4630,"v":6695},{"s":4740,"v":6695},{"s":4850,"v":6695},{"s":4960,"v":6695},{"s":5070,"v":6695},{"s":5180,"v":6695},{"s":5290,"v":6695},{"s":5400,"v":6695},{"s":5510,"v":6695},{"s":5637,"v":6695},{"s":5713,"v":6695},{"s":5823,"v":6695},{"s":5933,"v":6695},{"s":6043,"v":6695},{"s":6153,"v":6695},{"s":6263,"v":6695},{"s":6373,"v":6695},{"s":6483,"v":6695},{"s":6593,"v":6695},{"s":6703,"v":6695},{"s":6813,"v":6695},{"s":6923,"v":6695},{"s":7033,"v":6695},{"s":7143,"v":6695},{"s":7253,"v":6695},{"s":7363,"v":6695},{"s":7473,"v":6695},{"s":7583,"v":6695},{"s":7693,"v":6695},{"s":7803,"v":6695},{"s":7913,"v":6695},{"s":8023,"v":6695},{"s":8133,"v":6695},{"s":8243,"v":6695},{"s":8353,"v":6695},{"s":8463,"v":6695},{"s":8573,"v":6695},{"s":8683,"v":6695},{"s":8793,"v":6695},{"s":8866,"v":6695},{"s":8942,"v":6695},{"s":9052,"v":6695},{"s":9162,"v":6695},{"s":9272,"v":6695},{"s":9382,"v":6695},{"s":9492,"v":6695},{"s":9602,"v":6695},{"s":9712,"v":6695},{"s":9822,"v":6695},{"s":9932,"v":6695},{"s":10042,"v":6695},{"s":10152,"v":6695},{"s":10262,"v":6695},{"s":10372,"v":6695},{"s":10482,"v":6695},{"s":10592,"v":6695},{"s":10702,"v":6695},{"s":10812,"v":6695},{"s":10922,"v":6695},{"s":11032,"v":6695},{"s":11142,"v":6695},{"s":11252,"v":6695},{"s":11362,"v":6695},{"s":11472,"v":6695},{"s":11582,"v":6695},{"s":11692,"v":6695},{"s":11802,"v":6695},{"s":11912,"v":6695},{"s":12022,"v":6695},{"s":12132,"v":6695},{"s":12242,"v":6695},{"s":12352,"v":6695},{"s":12522,"v":6695},{"s":12632,"v":6695},{"s":12742,"v":6695},{"s":12852,"v":6695},{"s":12962,"v":6695},{"s":13072,"v":6695},{"s":13182,"v":6695},{"s":13292,"v":6695},{"s":13402,"v":6695},{"s":13512,"v":6695},{"s":13622,"v":6695},{"s":13732,"v":6695},{"s":13842,"v":6695},{"s":13952,"v":6695},{"s":14062,"v":6695},{"s":14172,"v":6695},{"s":14282,"v":6695},{"s":14392,"v":6695},{"s":14502,"v":6695},{"s":14640,"v":6695},{"s":14750,"v":6695},{"s":14860,"v":6695},{"s":14970,"v":6695},{"s":15080,"v":6695},{"s":15190,"v":6695},{"s":15300,"v":6695},{"s":15410,"v":6695},{"s":15520,"v":6695},{"s":15630,"v":6695},{"s":15740,"v":6695},{"s":15850,"v":6695},{"s":15960,"v":6695},{"s":16070,"v":6695},{"s":16180,"v":6695},{"s":16290,"v":6695},{"s":16400,"v":6695},{"s":16510,"v":6695},{"s":16620,"v":6695},{"s":16730,"v":6695},{"s":16840,"v":6695},{"s":16950,"v":6695},{"s":17060,"v":6695},{"s":17170,"v":6695},{"s":17280,"v":6695},{"s":17390,"v":6695},{"s":17500,"v":6695},{"s":17610,"v":6695},{"s":17720,"v":6695},{"s":17830,"v":6695},{"s":17940,"v":6695},{"s":18050,"v":6695},{"s":18160,"v":6695},{"s":18270,"v":6695},{"s":18380,"v":6695},{"s":18490,"v":6695},{"s":18600,"v":6695},{"s":18700,"v":6695},
{"s":168,"v":6694},{"s":244,"v":6694},{"s":320,"v":6694},{"s":395,"v":6694},{"s":471,"v":6694},{"s":570,"v":6694},{"s":623,"v":6694},{"s":851,"v":6694},{"s":1056,"v":6694},{"s":1193,"v":6694},{"s":1421,"v":6694},{"s":1497,"v":6694},{"s":1573,"v":6694},{"s":1892,"v":6694},{"s":2067,"v":6694},{"s":2219,"v":6694},{"s":2545,"v":6694},{"s":2621,"v":6694},{"s":3229,"v":6694},{"s":3305,"v":6694},{"s":3381,"v":6694},{"s":3875,"v":6694},{"s":4217,"v":6694},{"s":4331,"v":6694},{"s":4460,"v":6694},{"s":4536,"v":6694},{"s":5014,"v":6694},{"s":5106,"v":6694},{"s":5220,"v":6694},{"s":5356,"v":6694},{"s":6040,"v":6694},{"s":6116,"v":6694},{"s":6192,"v":6694},{"s":6268,"v":6694},{"s":6412,"v":6694},{"s":6640,"v":6694},{"s":6716,"v":6694},{"s":6800,"v":6694},{"s":7043,"v":6694},{"s":7256,"v":6694},{"s":7446,"v":6694},{"s":7499,"v":6694},{"s":7727,"v":6694},{"s":7803,"v":6694},{"s":7879,"v":6694},{"s":7955,"v":6694},{"s":8054,"v":6694},{"s":8281,"v":6694},{"s":8547,"v":6694},{"s":8623,"v":6694},{"s":8699,"v":6694},{"s":8965,"v":6694},{"s":9170,"v":6694},{"s":9246,"v":6694},{"s":9359,"v":6694},{"s":9435,"v":6694},{"s":9488,"v":6694},{"s":9777,"v":6694},{"s":9868,"v":6694},{"s":10043,"v":6694},{"s":10195,"v":6694},{"s":10400,"v":6694},{"s":10537,"v":6694},{"s":10780,"v":6694},{"s":10840,"v":6694},{"s":10916,"v":6694},{"s":11083,"v":6694},{"s":11524,"v":6694},{"s":11767,"v":6694},{"s":12071,"v":6694},{"s":12147,"v":6694},{"s":12223,"v":6694},{"s":12299,"v":6694},{"s":12375,"v":6694},{"s":12451,"v":6694},{"s":12565,"v":6694},{"s":12808,"v":6694},{"s":12998,"v":6694},{"s":13249,"v":6694},{"s":13431,"v":6694},{"s":13750,"v":6694},{"s":13841,"v":6694},{"s":14244,"v":6694},{"s":14320,"v":6694},{"s":14563,"v":6694},{"s":14715,"v":6694},{"s":14905,"v":6694},{"s":14981,"v":6694},{"s":15057,"v":6694},{"s":15224,"v":6694},{"s":15551,"v":6694},{"s":15627,"v":6694},{"s":15839,"v":6694},{"s":15991,"v":6694},{"s":16067,"v":6694},{"s":16295,"v":6694},{"s":16386,"v":6694},{"s":16576,"v":6694},{"s":17146,"v":6694},{"s":17222,"v":6694},{"s":17298,"v":6694},{"s":17412,"v":6694},{"s":17655,"v":6694},{"s":17883,"v":6694},{"s":18020,"v":6694},{"s":18096,"v":6694},{"s":18300,"v":6694},{"s":18437,"v":6694},{"s":18498,"v":6694},{"s":18650,"v":6694},
{"s":1512,"v":6693},{"s":1968,"v":6693},{"s":2447,"v":6693},{"s":3092,"v":6693},{"s":3563,"v":6693},{"s":5113,"v":6693},{"s":5273,"v":6693},{"s":6382,"v":6693},{"s":6496,"v":6693},{"s":7628,"v":6693},{"s":7750,"v":6693},{"s":7864,"v":6693},{"s":8054,"v":6693},{"s":8426,"v":6693},{"s":8471,"v":6693},{"s":10400,"v":6693},{"s":10612,"v":6693},{"s":10818,"v":6693},{"s":11091,"v":6693},{"s":11600,"v":6693},{"s":11813,"v":6693},{"s":12102,"v":6693},{"s":12360,"v":6693},{"s":12588,"v":6693},{"s":13044,"v":6693},{"s":15209,"v":6693},{"s":15938,"v":6693},{"s":16158,"v":6693},{"s":16576,"v":6693},{"s":17078,"v":6693},{"s":17283,"v":6693},{"s":17868,"v":6693},{"s":17982,"v":6693},{"s":18058,"v":6693},{"s":18134,"v":6693},{"s":18210,"v":6693},{"s":18286,"v":6693},{"s":18582,"v":6693},
{"s":4635,"v":6692},{"s":7575,"v":6692},{"s":7894,"v":6692},{"s":8281,"v":6692},{"s":10537,"v":6692},{"s":10833,"v":6692},{"s":12117,"v":6692},{"s":12147,"v":6692},{"s":12565,"v":6692},{"s":13682,"v":6692},{"s":14958,"v":6692},{"s":15125,"v":6692},{"s":15778,"v":6692},{"s":18700,"v":6692},
{"s":9231,"v":6691},{"s":10559,"v":6691},{"s":17123,"v":6691},{"s":18331,"v":6691}
]},
"mark":{"type":"circle","size":29,"opacity":1},
"encoding":{
"x":{"field":"s","type":"quantitative","scale":{"domain":[-935,19635],"nice":false,"zero":false},"axis":{"values":[0,2500,5000,7500,10000,12500,15000,17500],"format":"d","title":"Sample #"}},
"y":{"field":"v","type":"quantitative","scale":{"domain":[6690.2,6707.8],"nice":false,"zero":false},"axis":{"values":[6692,6694,6696,6698,6700,6702,6704,6706],"format":"d","title":"ADC Counts"}},
"color":{"datum":"Samples","type":"nominal","scale":{"range":["#000000"]},"legend":{"orient":"top-right","offset":6,"title":null,"padding":7,"strokeColor":"#cccccc","fillColor":"rgba(255,255,255,0.8)","cornerRadius":3,"symbolType":"circle","symbolSize":29,"symbolStrokeWidth":0,"symbolFillColor":"#000000","labelFontSize":13.9,"labelFont":"DejaVu Sans","labelColor":"#000000","labelLimit":400,"labelOffset":20,"symbolOffset":11,"labelExpr":"['Samples', 'μ = 6699.1, σ = 2.1']"}}
},
"config":{
"font":"DejaVu Sans",
"view":{"stroke":"#000000","strokeWidth":1.1},
"axis":{"grid":true,"gridColor":"#b0b0b0","gridWidth":1.1,"domain":false,"ticks":true,"tickColor":"#000000","tickSize":4.9,"tickWidth":1.1,"labelFont":"DejaVu Sans","labelFontSize":13.9,"labelColor":"#000000","labelPadding":4.9,"titleFont":"DejaVu Sans","titleFontSize":13.9,"titleFontWeight":"normal","titleColor":"#000000"},
"axisX":{"titlePadding":5},
"axisY":{"titlePadding":7}
}
}
